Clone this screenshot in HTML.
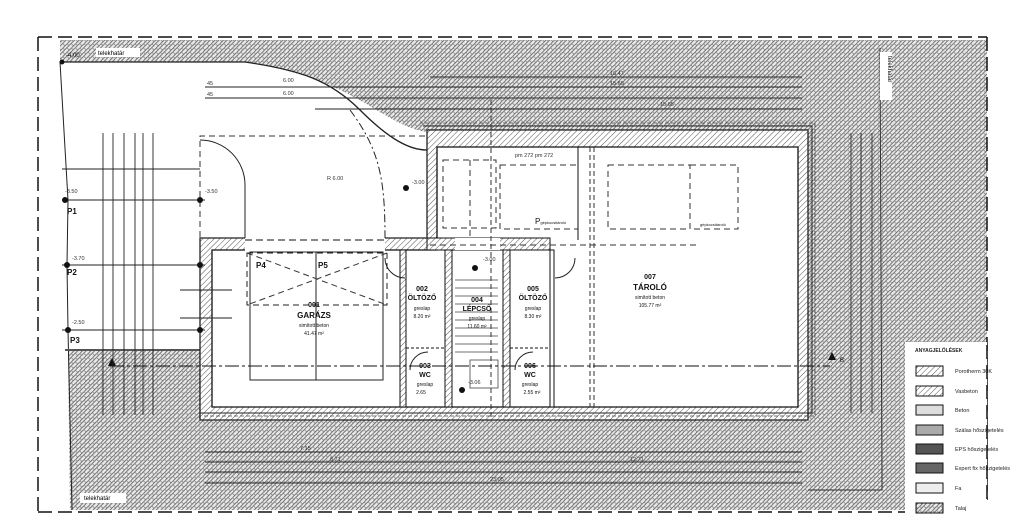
<!DOCTYPE html>
<html><head><meta charset="utf-8"><style>
html,body{margin:0;padding:0;background:#fff;width:1024px;height:525px;overflow:hidden}
svg{display:block;font-family:"Liberation Sans",sans-serif}
</style></head><body>
<svg width="1024" height="525" viewBox="0 0 1024 525" xmlns="http://www.w3.org/2000/svg">
<defs>
<pattern id="soil" width="6" height="6" patternUnits="userSpaceOnUse" patternTransform="rotate(45)">
<rect width="6" height="6" fill="#e8e8e8"/>
<line x1="0" y1="0" x2="0" y2="6" stroke="#555" stroke-width="1.5"/>
<line x1="3" y1="0" x2="3" y2="6" stroke="#777" stroke-width="1"/>
<line x1="0" y1="1.5" x2="3" y2="1.5" stroke="#888" stroke-width="0.8"/>
<line x1="3" y1="4.5" x2="6" y2="4.5" stroke="#888" stroke-width="0.8"/>
</pattern>
<pattern id="wall" width="4" height="4" patternUnits="userSpaceOnUse" patternTransform="rotate(45)">
<rect width="4" height="4" fill="#fff"/>
<line x1="0" y1="0" x2="0" y2="4" stroke="#555" stroke-width="1"/>
</pattern>
</defs>

<path d="M60,40 L987,40 L987,510 L70,510 L68,350 L200,350 L200,420 L427,420 L427,132 C380,125 360,80 245,62 L60,62 Z" fill="url(#soil)"/>
<path d="M60,62 L245,62 C300,70 330,80 360,110 C390,140 410,150 427,150" fill="none" stroke="#222" stroke-width="1.3"/>
<path d="M60,62 L68,200 L67,265 L68,330 L72,510" fill="none" stroke="#222" stroke-width="1"/>
<line x1="65" y1="350" x2="205" y2="350" stroke="#555" stroke-width="2"/>

<path d="M427,130 L808,130 L808,420 L200,420 L200,238 L427,238 Z" fill="url(#wall)" stroke="#222" stroke-width="1.3"/>
<path d="M437,147 L798,147 L798,407 L212,407 L212,250 L437,250 Z" fill="#fff" stroke="#111" stroke-width="1.3"/>
<rect x="245" y="236" width="140" height="16" fill="#fff"/>
<line x1="245" y1="240" x2="385" y2="240" stroke="#111" stroke-dasharray="7,4"/>
<path d="M200,413 L812,413 L812,126 L423,126" fill="none" stroke="#222" stroke-width="1"/>
<path d="M204,416 L815,416 L815,123 L420,123" fill="none" stroke="#444" stroke-width="0.8" stroke-dasharray="4,2"/>
<rect x="400" y="250" width="6" height="157" fill="url(#wall)" stroke="#111"/>
<rect x="445" y="250" width="7" height="157" fill="url(#wall)" stroke="#111"/>
<rect x="503" y="250" width="7" height="157" fill="url(#wall)" stroke="#111"/>
<rect x="550" y="250" width="4" height="157" fill="#fff" stroke="#111"/>
<rect x="427" y="238" width="123" height="12" fill="url(#wall)" stroke="#111"/>
<rect x="455" y="238" width="45" height="12" fill="#fff"/>
<line x1="406" y1="348" x2="445" y2="348" stroke="#111" stroke-dasharray="3,2"/>
<line x1="510" y1="348" x2="550" y2="348" stroke="#111" stroke-dasharray="3,2"/>
<g stroke="#444" stroke-width="0.8" fill="none">
<path d="M455,280 L498,280 M455,288 L498,288 M455,296 L498,296 M455,304 L498,304 M455,312 L498,312 M455,320 L498,320 M455,328 L498,328 M455,336 L498,336 M455,344 L498,344 M455,352 L498,352"/>
<rect x="470" y="360" width="28" height="28"/>
</g>
<rect x="250" y="252" width="133" height="128" fill="none" stroke="#222"/>
<line x1="316" y1="252" x2="316" y2="380" stroke="#222"/>
<rect x="247" y="253" width="140" height="52" fill="none" stroke="#222" stroke-dasharray="6,4"/>
<path d="M247,253 L387,305 M387,253 L247,305" stroke="#333" stroke-dasharray="6,4"/>
<g fill="none" stroke="#333" stroke-dasharray="6,4">
<rect x="443" y="160" width="53" height="68"/>
<rect x="500" y="165" width="78" height="64"/>
<rect x="608" y="165" width="82" height="64"/>
<rect x="690" y="165" width="48" height="64"/>
<path d="M200,237 L200,136 L427,136"/>
<path d="M430,245 L700,245"/>
<line x1="470" y1="160" x2="470" y2="240"/>
</g>
<line x1="578" y1="147" x2="578" y2="240" stroke="#111"/>
<g stroke="#333" stroke-dasharray="5,3"><line x1="590" y1="147" x2="590" y2="407"/><line x1="594" y1="147" x2="594" y2="407"/><line x1="491" y1="100" x2="491" y2="420"/></g>
<g fill="none" stroke="#222" stroke-width="1">
<path d="M200,140 A45,45 0 0 1 245,185 L245,238"/>
<path d="M350,110 C380,150 385,180 385,238" stroke-dasharray="8,3,2,3"/>
<path d="M410,370 A18,18 0 0 1 428,352"/>
<path d="M515,370 A18,18 0 0 1 533,352"/>
<path d="M385,258 A20,20 0 0 0 405,278"/>
<path d="M575,258 A20,20 0 0 1 555,278"/>
</g>
<line x1="110" y1="366" x2="830" y2="366" stroke="#111" stroke-dasharray="14,3,3,3"/>
<path d="M108,366 l4,-8 l4,8z M828,360 l4,-8 l4,8z" fill="#111"/>
<text x="840" y="362" font-size="6">B</text>

<g stroke="#111" stroke-width="1.5" stroke-dasharray="14,6" fill="none">
<line x1="38" y1="37" x2="987" y2="37"/>
<line x1="38" y1="37" x2="38" y2="512"/>
<line x1="38" y1="512" x2="905" y2="512"/>
<line x1="987" y1="37" x2="987" y2="500"/>
</g>
<line x1="880" y1="48" x2="882" y2="490" stroke="#333"/>
<line x1="808" y1="490" x2="882" y2="490" stroke="#333"/>
<rect x="880" y="52" width="12" height="48" fill="#fff"/>
<text x="888" y="56" font-size="6" transform="rotate(90 888 56)">telekhatár</text>
<rect x="96" y="48" width="44" height="9" fill="#fff"/><text x="98" y="55" font-size="6">telekhatár</text>
<rect x="80" y="493" width="46" height="10" fill="#fff"/><text x="84" y="500" font-size="6">telekhatár</text>
<text x="66" y="57" font-size="6">-4.00</text>

<g stroke="#222" stroke-width="0.9">
<line x1="205" y1="87" x2="802" y2="87"/><line x1="205" y1="98" x2="802" y2="98"/>
<line x1="315" y1="109" x2="802" y2="109"/><line x1="430" y1="77" x2="802" y2="77"/>
<line x1="205" y1="452" x2="802" y2="452"/><line x1="205" y1="462" x2="802" y2="462"/>
<line x1="205" y1="472" x2="802" y2="472"/><line x1="205" y1="483" x2="802" y2="483"/>
<line x1="103" y1="133" x2="103" y2="415"/><line x1="113" y1="133" x2="113" y2="415"/>
<line x1="124" y1="133" x2="124" y2="415"/><line x1="135" y1="133" x2="135" y2="415"/>
<line x1="143" y1="133" x2="143" y2="415"/><line x1="153" y1="133" x2="153" y2="415"/>
<line x1="851" y1="133" x2="851" y2="413"/><line x1="861" y1="133" x2="861" y2="413"/>
<line x1="872" y1="133" x2="872" y2="413"/>
<line x1="62" y1="169" x2="200" y2="169"/>
<line x1="62" y1="200" x2="205" y2="200"/><line x1="62" y1="265" x2="205" y2="265"/><line x1="62" y1="330" x2="205" y2="330"/>
<line x1="180" y1="290" x2="232" y2="290"/><line x1="180" y1="318" x2="232" y2="318"/>
</g>
<g font-size="5.5" fill="#333">
<text x="283" y="82">6.00</text><text x="283" y="95">6.00</text><text x="610" y="75">16.47</text><text x="610" y="85">15.65</text><text x="660" y="106">15.65</text>
<text x="300" y="450">7.15</text><text x="330" y="461">8.71</text><text x="490" y="481">23.05</text><text x="630" y="461">12.71</text>
<text x="207" y="85">45</text><text x="207" y="96">45</text>
<text x="515" y="157">pm 272 pm 272</text>
<text x="65" y="193">-3.50</text><text x="205" y="193">-3.50</text><text x="72" y="260">-3.70</text><text x="72" y="324">-2.50</text>
<text x="412" y="184">-3.00</text><text x="483" y="261">-3.00</text><text x="468" y="384">-3.06</text>
<text x="327" y="180">R 6.00</text>
</g>
<g fill="#111">
<circle cx="62" cy="62" r="2.5"/><circle cx="65" cy="200" r="3"/><circle cx="67" cy="265" r="3"/><circle cx="68" cy="330" r="3"/>
<circle cx="200" cy="200" r="3"/><circle cx="200" cy="265" r="3"/><circle cx="200" cy="330" r="3"/>
<circle cx="406" cy="188" r="3"/><circle cx="475" cy="268" r="3"/><circle cx="462" cy="390" r="3"/>
</g>
<g font-size="8" font-weight="bold" fill="#111">
<text x="67" y="214">P1</text><text x="67" y="275">P2</text><text x="70" y="343">P3</text>
<text x="256" y="268">P4</text><text x="318" y="268">P5</text>
<text x="535" y="224" font-weight="normal">P<tspan font-size="4">gépkocsitároló</tspan></text>
<text x="700" y="226" font-weight="normal" font-size="4">gépkocsitároló</text>
</g>
<g text-anchor="middle" fill="#111">
<text x="314" y="307" font-size="7" font-weight="bold">001</text>
<text x="314" y="318" font-size="8" font-weight="bold">GARÁZS</text>
<text x="314" y="327" font-size="5">simított beton</text><text x="314" y="335" font-size="5">41.47 m²</text>
<text x="422" y="291" font-size="7" font-weight="bold">002</text><text x="422" y="300" font-size="7" font-weight="bold">ÖLTÖZŐ</text>
<text x="422" y="310" font-size="5">greslap</text><text x="422" y="318" font-size="5">8.20 m²</text>
<text x="477" y="302" font-size="7" font-weight="bold">004</text><text x="477" y="311" font-size="7" font-weight="bold">LÉPCSŐ</text>
<text x="477" y="320" font-size="5">greslap</text><text x="477" y="328" font-size="5">11.60 m²</text>
<text x="533" y="291" font-size="7" font-weight="bold">005</text><text x="533" y="300" font-size="7" font-weight="bold">ÖLTÖZŐ</text>
<text x="533" y="310" font-size="5">greslap</text><text x="533" y="318" font-size="5">8.30 m²</text>
<text x="650" y="279" font-size="7" font-weight="bold">007</text><text x="650" y="290" font-size="8" font-weight="bold">TÁROLÓ</text>
<text x="650" y="299" font-size="5">simított beton</text><text x="650" y="307" font-size="5">105.77 m²</text>
<text x="425" y="368" font-size="7" font-weight="bold">003</text><text x="425" y="377" font-size="7" font-weight="bold">WC</text>
<text x="425" y="386" font-size="5">greslap</text><text x="421" y="394" font-size="5">2.65</text>
<text x="530" y="368" font-size="7" font-weight="bold">006</text><text x="530" y="377" font-size="7" font-weight="bold">WC</text>
<text x="530" y="386" font-size="5">greslap</text><text x="532" y="394" font-size="5">2.55 m²</text>
</g>
<rect x="905" y="342" width="82" height="175" fill="#fff"/>
<g font-size="5.5" fill="#222">
<text x="915" y="352" font-weight="bold" font-size="5">ANYAGJELÖLÉSEK</text>
<rect x="916" y="366" width="27" height="10" fill="url(#wall)" stroke="#111"/><text x="955" y="373">Porotherm 30K</text>
<rect x="916" y="386" width="27" height="10" fill="url(#wall)" stroke="#111"/><text x="955" y="393">Vasbeton</text>
<rect x="916" y="405" width="27" height="10" fill="#ddd" stroke="#111"/><text x="955" y="412">Beton</text>
<rect x="916" y="425" width="27" height="10" fill="#aaa" stroke="#111"/><text x="955" y="432">Szálas hőszigetelés</text>
<rect x="916" y="444" width="27" height="10" fill="#555" stroke="#111"/><text x="955" y="451">EPS hőszigetelés</text>
<rect x="916" y="463" width="27" height="10" fill="#666" stroke="#111"/><text x="955" y="470">Expert fix hőszigetelés</text>
<rect x="916" y="483" width="27" height="10" fill="#eee" stroke="#111"/><text x="955" y="490">Fa</text>
<rect x="916" y="503" width="27" height="10" fill="url(#soil)" stroke="#111"/><text x="955" y="510">Talaj</text>
</g>
<line x1="987" y1="345" x2="987" y2="505" stroke="#111" stroke-width="1.5" stroke-dasharray="14,6"/>
</svg>
</body></html>
